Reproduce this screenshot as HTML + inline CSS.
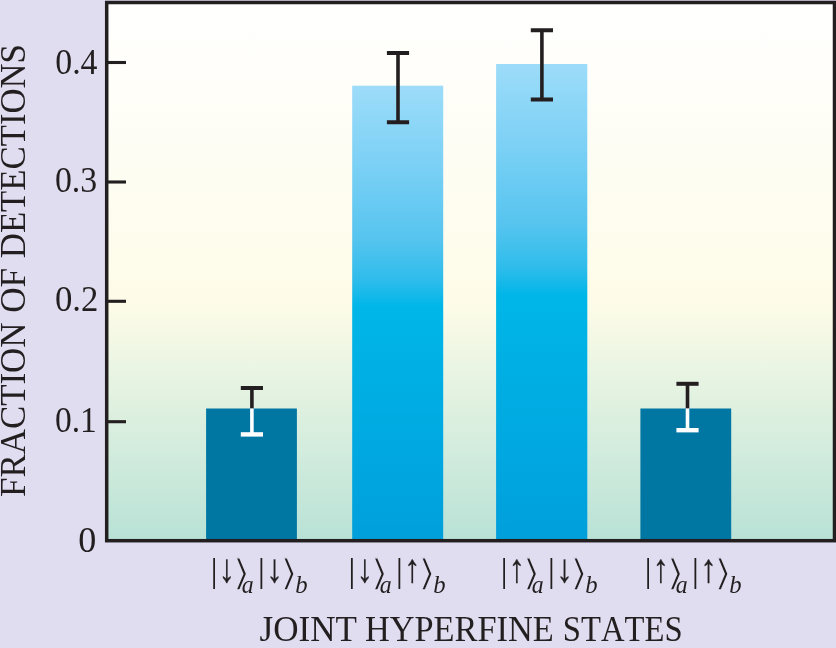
<!DOCTYPE html>
<html lang="en"><head><meta charset="utf-8"><title>Joint hyperfine states</title>
<style>html,body{margin:0;padding:0;background:#e0ddf0;overflow:hidden}svg{display:block}text{font-family:"Liberation Serif","DejaVu Serif",serif;fill:#231f20;font-kerning:none;font-variant-ligatures:none}.d{font-family:"DejaVu Sans",sans-serif}.i{font-style:italic}</style></head><body>
<svg width="836" height="648" viewBox="0 0 836 648">
<defs>
<linearGradient id="pg" x1="0" y1="0" x2="0" y2="1"><stop offset="0" stop-color="#ffffff"/><stop offset="0.30" stop-color="#fefdf3"/><stop offset="0.555" stop-color="#fefce8"/><stop offset="1" stop-color="#b8e2d6"/></linearGradient>
<linearGradient id="lb" x1="0" y1="0" x2="0" y2="1"><stop offset="0" stop-color="#9ddcf9"/><stop offset="0.18" stop-color="#7ad0f5"/><stop offset="0.34" stop-color="#55c4ef"/><stop offset="0.43" stop-color="#2dbceb"/><stop offset="0.485" stop-color="#00b6e8"/><stop offset="1" stop-color="#009fdc"/></linearGradient>
</defs>
<rect width="836" height="648" fill="#e0ddf0"/>
<rect x="106.7" y="2.5" width="727.8" height="538.2" fill="url(#pg)"/>
<rect x="206.1" y="408.5" width="90.8" height="132.2" fill="#0076a3"/>
<rect x="352.2" y="85.7" width="91.0" height="455.0" fill="url(#lb)"/>
<rect x="496.1" y="64.0" width="91.2" height="476.7" fill="url(#lb)"/>
<rect x="640.4" y="408.5" width="90.8" height="132.2" fill="#0076a3"/>
<path d="M240.8 388.0H263.0" stroke="#231f20" stroke-width="4.0" fill="none"/>
<path d="M251.9 388.0V408.5" stroke="#231f20" stroke-width="3.6" fill="none"/>
<path d="M240.8 434.4H263.0" stroke="#fff" stroke-width="4.4" fill="none"/>
<path d="M251.9 408.5V434.4" stroke="#fff" stroke-width="3.6" fill="none"/>
<path d="M386.9 53.0H409.1M386.9 122.2H409.1" stroke="#231f20" stroke-width="4.0" fill="none"/>
<path d="M398.0 53.0V122.2" stroke="#231f20" stroke-width="3.6" fill="none"/>
<path d="M530.8 30.3H553.0M530.8 99.4H553.0" stroke="#231f20" stroke-width="4.0" fill="none"/>
<path d="M541.9 30.3V99.4" stroke="#231f20" stroke-width="3.6" fill="none"/>
<path d="M676.4 383.8H698.6" stroke="#231f20" stroke-width="4.0" fill="none"/>
<path d="M687.5 383.8V408.5" stroke="#231f20" stroke-width="3.6" fill="none"/>
<path d="M676.4 430.2H698.6" stroke="#fff" stroke-width="4.4" fill="none"/>
<path d="M687.5 408.5V430.2" stroke="#fff" stroke-width="3.6" fill="none"/>
<rect x="106.7" y="2.5" width="727.8" height="538.2" fill="none" stroke="#231f20" stroke-width="3.5"/>
<path d="M106.7 62.5H126" stroke="#231f20" stroke-width="3.1" fill="none"/>
<text transform="translate(55.21 73.80) scale(0.9673 1)" font-size="35.00">0.4</text>
<path d="M106.7 182.0H126" stroke="#231f20" stroke-width="3.1" fill="none"/>
<text transform="translate(54.91 191.80) scale(0.9671 1)" font-size="35.00">0.3</text>
<path d="M106.7 301.3H126" stroke="#231f20" stroke-width="3.1" fill="none"/>
<text transform="translate(54.88 311.20) scale(0.9929 1)" font-size="35.00">0.2</text>
<path d="M106.7 421.7H126" stroke="#231f20" stroke-width="3.1" fill="none"/>
<text transform="translate(54.92 431.80) scale(0.9575 1)" font-size="35.00">0.1</text>
<text transform="translate(78.23 552.00) scale(1.0314 1)" font-size="35.00">0</text>
<text transform="translate(259.56 640.50) scale(1.0011 1)" font-size="35.00">JOINT</text>
<text transform="translate(364.91 640.50) scale(0.9812 1)" font-size="35.00">HYPERFINE</text>
<text transform="translate(562.81 640.50) scale(0.9335 1)" font-size="35.00">STATES</text>
<text transform="translate(24.60 497.01) rotate(-90) scale(0.9977 1)" font-size="35.00">FRACTION</text>
<text transform="translate(24.60 312.74) rotate(-90) scale(1.0038 1)" font-size="35.00">OF</text>
<text transform="translate(24.60 258.20) rotate(-90) scale(0.9923 1)" font-size="35.00">DETECTIONS</text>
<text transform="translate(210.38 582.30) scale(1.0605 1)" font-size="34.08">|</text><text transform="translate(218.74 581.60) scale(0.8107 1)" font-size="40.00" stroke="#231f20" stroke-width="0.35">↓</text><text class="d" transform="translate(232.08 584.75) scale(1.3555 1)" font-size="36.10" stroke="#e0ddf0" stroke-width="1.2">⟩</text><text class="i" transform="translate(241.79 592.70) scale(0.9337 1)" font-size="25.50">a</text><text transform="translate(257.78 582.30) scale(1.0605 1)" font-size="34.08">|</text><text transform="translate(266.44 581.60) scale(0.8107 1)" font-size="40.00" stroke="#231f20" stroke-width="0.35">↓</text><text class="d" transform="translate(279.48 584.75) scale(1.3555 1)" font-size="36.10" stroke="#e0ddf0" stroke-width="1.2">⟩</text><text class="i" transform="translate(295.28 592.70) scale(0.9699 1)" font-size="25.50">b</text>
<text transform="translate(348.28 582.30) scale(1.0605 1)" font-size="34.08">|</text><text transform="translate(356.64 581.60) scale(0.8107 1)" font-size="40.00" stroke="#231f20" stroke-width="0.35">↓</text><text class="d" transform="translate(369.98 584.75) scale(1.3555 1)" font-size="36.10" stroke="#e0ddf0" stroke-width="1.2">⟩</text><text class="i" transform="translate(379.69 592.70) scale(0.9337 1)" font-size="25.50">a</text><text transform="translate(395.68 582.30) scale(1.0605 1)" font-size="34.08">|</text><text transform="translate(404.34 581.60) scale(0.8107 1)" font-size="40.00" stroke="#231f20" stroke-width="0.35">↑</text><text class="d" transform="translate(417.38 584.75) scale(1.3555 1)" font-size="36.10" stroke="#e0ddf0" stroke-width="1.2">⟩</text><text class="i" transform="translate(433.18 592.70) scale(0.9699 1)" font-size="25.50">b</text>
<text transform="translate(500.38 582.30) scale(1.0605 1)" font-size="34.08">|</text><text transform="translate(508.74 581.60) scale(0.8107 1)" font-size="40.00" stroke="#231f20" stroke-width="0.35">↑</text><text class="d" transform="translate(522.08 584.75) scale(1.3555 1)" font-size="36.10" stroke="#e0ddf0" stroke-width="1.2">⟩</text><text class="i" transform="translate(531.79 592.70) scale(0.9337 1)" font-size="25.50">a</text><text transform="translate(547.78 582.30) scale(1.0605 1)" font-size="34.08">|</text><text transform="translate(556.44 581.60) scale(0.8107 1)" font-size="40.00" stroke="#231f20" stroke-width="0.35">↓</text><text class="d" transform="translate(569.48 584.75) scale(1.3555 1)" font-size="36.10" stroke="#e0ddf0" stroke-width="1.2">⟩</text><text class="i" transform="translate(585.28 592.70) scale(0.9699 1)" font-size="25.50">b</text>
<text transform="translate(644.38 582.30) scale(1.0605 1)" font-size="34.08">|</text><text transform="translate(652.74 581.60) scale(0.8107 1)" font-size="40.00" stroke="#231f20" stroke-width="0.35">↑</text><text class="d" transform="translate(666.08 584.75) scale(1.3555 1)" font-size="36.10" stroke="#e0ddf0" stroke-width="1.2">⟩</text><text class="i" transform="translate(675.79 592.70) scale(0.9337 1)" font-size="25.50">a</text><text transform="translate(691.78 582.30) scale(1.0605 1)" font-size="34.08">|</text><text transform="translate(700.44 581.60) scale(0.8107 1)" font-size="40.00" stroke="#231f20" stroke-width="0.35">↑</text><text class="d" transform="translate(713.48 584.75) scale(1.3555 1)" font-size="36.10" stroke="#e0ddf0" stroke-width="1.2">⟩</text><text class="i" transform="translate(729.28 592.70) scale(0.9699 1)" font-size="25.50">b</text>
</svg></body></html>
